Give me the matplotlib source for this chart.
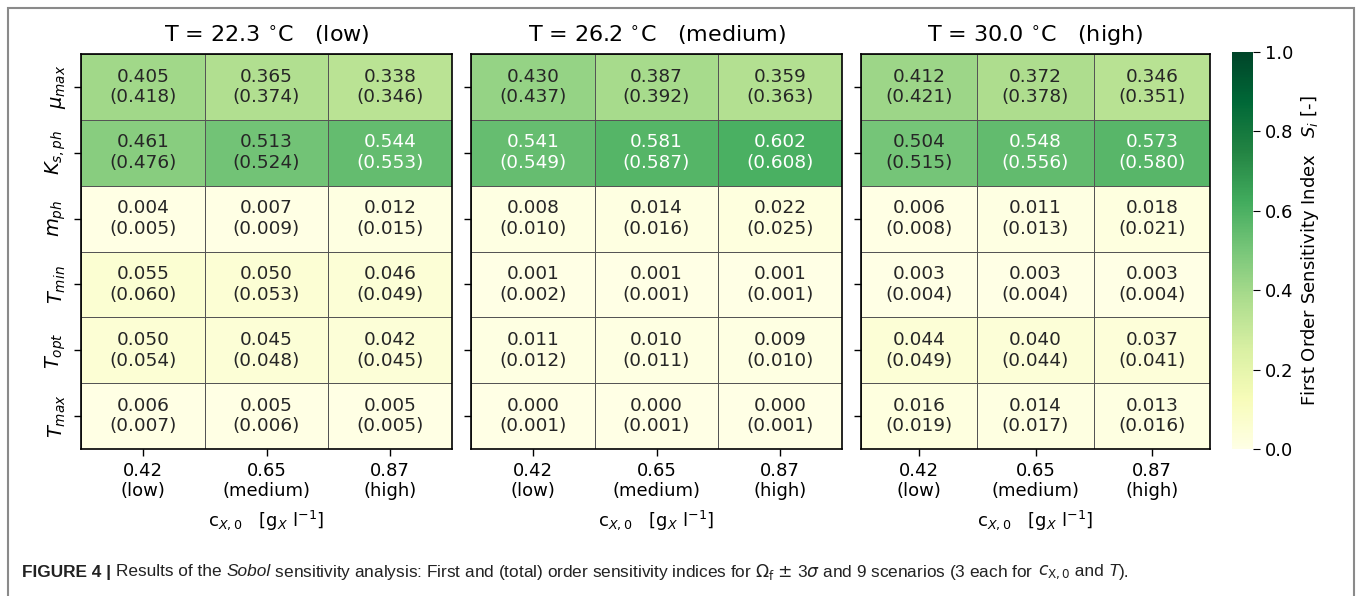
import numpy as np
import matplotlib
matplotlib.use("Agg")
import matplotlib.pyplot as plt
from matplotlib.patches import Rectangle

# Sobol indices: first order and total order, rows = parameters, cols = c_X0
params = [r"$\mu_{max}$", r"$K_{s,ph}$", r"$m_{ph}$", r"$T_{min}$", r"$T_{opt}$", r"$T_{max}$"]
cx0_labels = ["0.42\n(low)", "0.65\n(medium)", "0.87\n(high)"]
titles = [r"T = 22.3 $^{\circ}$C   (low)",
          r"T = 26.2 $^{\circ}$C   (medium)",
          r"T = 30.0 $^{\circ}$C   (high)"]

first_low = [[0.405, 0.365, 0.338], [0.461, 0.513, 0.544], [0.004, 0.007, 0.012],
             [0.055, 0.050, 0.046], [0.050, 0.045, 0.042], [0.006, 0.005, 0.005]]
total_low = [[0.418, 0.374, 0.346], [0.476, 0.524, 0.553], [0.005, 0.009, 0.015],
             [0.060, 0.053, 0.049], [0.054, 0.048, 0.045], [0.007, 0.006, 0.005]]

first_med = [[0.430, 0.387, 0.359], [0.541, 0.581, 0.602], [0.008, 0.014, 0.022],
             [0.001, 0.001, 0.001], [0.011, 0.010, 0.009], [0.000, 0.000, 0.000]]
total_med = [[0.437, 0.392, 0.363], [0.549, 0.587, 0.608], [0.010, 0.016, 0.025],
             [0.002, 0.001, 0.001], [0.012, 0.011, 0.010], [0.001, 0.001, 0.001]]

first_high = [[0.412, 0.372, 0.346], [0.504, 0.548, 0.573], [0.006, 0.011, 0.018],
              [0.003, 0.003, 0.003], [0.044, 0.040, 0.037], [0.016, 0.014, 0.013]]
total_high = [[0.421, 0.378, 0.351], [0.515, 0.556, 0.580], [0.008, 0.013, 0.021],
              [0.004, 0.004, 0.004], [0.049, 0.044, 0.041], [0.019, 0.017, 0.016]]

W, H = 1358, 596
fig = plt.figure(figsize=(W / 100, H / 100), dpi=100)


def px_axes(x0, y0, x1, y1):
    # pixel box (top-left origin) -> figure axes
    return fig.add_axes([x0 / W, 1 - y1 / H, (x1 - x0) / W, (y1 - y0) / H])


boxes = [(81, 54, 452, 449), (471, 54, 842, 449), (861, 54, 1210, 449)]
firsts = [first_low, first_med, first_high]
totals = [total_low, total_med, total_high]

for k in range(3):
    ax = px_axes(*boxes[k])
    S1 = np.array(firsts[k])
    ST = np.array(totals[k])
    mesh = ax.pcolormesh(S1, cmap="YlGn", vmin=0, vmax=1,
                         edgecolors="#555555", linewidth=0.6)
    ax.set_xlim(0, 3)
    ax.set_ylim(6, 0)
    for i in range(S1.shape[0]):
        for j in range(S1.shape[1]):
            col = "white" if S1[i, j] > 0.53 else "#262626"
            ax.text(j + 0.5, i + 0.5, "%.3f\n(%.3f)" % (S1[i, j], ST[i, j]),
                    ha="center", va="center", fontsize=13.3, color=col,
                    linespacing=1.2)
    ax.set_xticks(np.arange(3) + 0.5)
    ax.set_xticklabels(cx0_labels, fontsize=13, linespacing=1.15)
    ax.set_yticks(np.arange(6) + 0.5)
    if k == 0:
        ax.set_yticklabels(params, fontsize=14, rotation=90, va="center")
    else:
        ax.set_yticklabels([])
    ax.tick_params(length=5, width=1, pad=4)
    ax.set_xlabel(r"c$_{X,0}$   [g$_X$ l$^{-1}$]", fontsize=13, labelpad=6)
    ax.set_title(titles[k], fontsize=16, pad=9)
    for s in ax.spines.values():
        s.set_linewidth(1.2)

cax = px_axes(1232, 52, 1253, 449)
cb = fig.colorbar(mesh, cax=cax, ticks=np.arange(0, 1.01, 0.2))
cb.outline.set_visible(False)
cb.ax.tick_params(labelsize=13, length=5)
cb.ax.set_yticklabels(["%.1f" % t for t in np.arange(0, 1.01, 0.2)])
cb.set_label(r"First Order Sensitivity Index   $S_i$ [-]", fontsize=13, labelpad=4)

# frame around the figure panel
fig.patches.append(Rectangle((8 / W, -0.05), (1354 - 8) / W, 1.05 - 8 / H,
                             transform=fig.transFigure, fill=False,
                             edgecolor="#8a8a8a", linewidth=1.5, clip_on=False))

# caption, assembled piece by piece (gap = extra pixels before the piece)
cap_font = ["Liberation Sans Narrow", "Liberation Sans", "DejaVu Sans"]
pieces = [
    ("FIGURE 4 | ", "bold", "normal", 0),
    ("Results of the ", "normal", "normal", 0),
    ("Sobol", "normal", "italic", 0),
    (r" sensitivity analysis: First and (total) order sensitivity indices for $\Omega_{\mathrm{f}}$ $\pm$ 3$\sigma$ and 9 scenarios (3 each for", "normal", "normal", 0),
    (r"$c_{\mathrm{X,0}}$", "normal", "normal", 4),
    (" and ", "normal", "normal", 0),
    ("T", "normal", "italic", 0),
    (").", "normal", "normal", 0),
]
fig.canvas.draw()
renderer = fig.canvas.get_renderer()
x = 22
for txt, wt, st, gap in pieces:
    x += gap
    t = fig.text(x / W, 1 - 572 / H, txt, fontsize=12.4, family=cap_font,
                 weight=wt, style=st, va="center", ha="left", color="#222222")
    bb = t.get_window_extent(renderer=renderer)
    x += bb.width

fig.savefig("out.png", dpi=100)
